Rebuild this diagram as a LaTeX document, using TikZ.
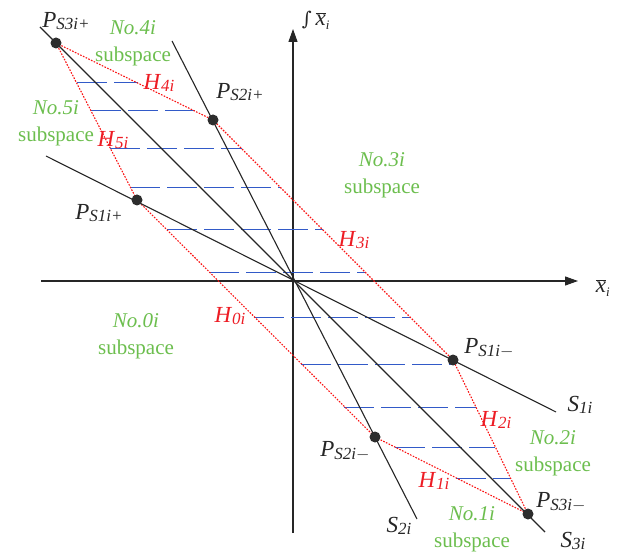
\documentclass[tikz,border=0pt]{standalone}
\usepackage{fontspec}
\setmainfont{Liberation Serif}
\newfontfamily\intfont{DejaVu Serif}
\usetikzlibrary{arrows.meta}
\definecolor{lblgreen}{RGB}{108,190,78}
\definecolor{lblred}{RGB}{237,28,36}
\definecolor{hexred}{RGB}{250,20,20}
\definecolor{dashblue}{RGB}{50,90,200}
\definecolor{dotgray}{RGB}{45,45,45}
\newcommand\mysub[2]{\textit{#1}\raisebox{-2.5pt}{\fontsize{17}{17}\selectfont\textit{#2}}}
\begin{document}
\begin{tikzpicture}[x=1pt,y=-1pt,
  txt/.style={inner sep=0pt, font=\fontsize{21}{23}\selectfont},
  gtxt/.style={txt, text=lblgreen, align=center},
  rtxt/.style={inner sep=0pt, font=\fontsize{23}{25}\selectfont, text=lblred},
  ktxt/.style={inner sep=0pt, font=\fontsize{23}{25}\selectfont, text=black!85},
  sline/.style={line width=1.1pt, draw=black!85},
  axis/.style={line width=1.1pt, draw=black!85, -{Triangle[length=13pt,width=9pt]}},
  hexedge/.style={line width=1.1pt, draw=hexred, dash pattern=on 1.6pt off 1.4pt},
  bdash/.style={line width=1pt, draw=dashblue, dash pattern=on 30pt off 7pt},
  pdot/.style={circle, fill=dotgray, inner sep=0pt, minimum size=11pt}]
\useasboundingbox (0,0) rectangle (626,553);
% origin
\coordinate (O) at (293,281);
% axes
\coordinate (xl) at (41,281);
\coordinate (xr) at (578,281);
\coordinate (yb) at (293,533);
\coordinate (yt) at (293,29);
\draw[axis] (xl) -- (xr);
\draw[axis] (yb) -- (yt);
% switching lines end points
\coordinate (S3a) at (40,27);
\coordinate (S3b) at (545,532);
\coordinate (S2a) at (172,41);
\coordinate (S2b) at (417,519);
\coordinate (S1a) at (46,156);
\coordinate (S1b) at (556,412);
% points
\coordinate (P3p) at (56,43);
\coordinate (P3m) at (528,514);
\coordinate (P2p) at (213,120);
\coordinate (P2m) at (375,437);
\coordinate (P1p) at (137,200);
\coordinate (P1m) at (453,360);
% blue dashed lines
\foreach \y/\xa/\xb in {83/77/138, 111/91/196, 149/110/242, 188/130/281, 230/167/323, 272/209/365,
  317/254/410, 364/301/455, 407/344/476, 447/395/495, 478/456/510}
  \draw[bdash] (\xa,\y) -- (\xb,\y);
% hexagon
\draw[hexedge] (P3p) -- (P2p) -- (P1m) -- (P3m) -- (P2m) -- (P1p) -- cycle;
% lines
\draw[sline] (S3a) -- (S3b);
\draw[sline] (S2a) -- (S2b);
\draw[sline] (S1a) -- (S1b);
% dots
\node[pdot] (d3p) at (P3p) {};
\node[pdot] (d3m) at (P3m) {};
\node[pdot] (d2p) at (P2p) {};
\node[pdot] (d2m) at (P2m) {};
\node[pdot] (d1p) at (P1p) {};
\node[pdot] (d1m) at (P1m) {};
% point labels
\node[ktxt] (lP3p) at (66,21) {\mysub{P}{S3i+}};
\node[ktxt] (lP2p) at (240,92) {\mysub{P}{S2i+}};
\node[ktxt] (lP1p) at (99,213) {\mysub{P}{S1i+}};
\node[ktxt] (lP1m) at (489,348) {\mysub{P}{S1i$-$}};
\node[ktxt] (lP2m) at (345,451) {\mysub{P}{S2i$-$}};
\node[ktxt] (lP3m) at (561,502) {\mysub{P}{S3i$-$}};
\node[ktxt] (lS1) at (580,405) {\mysub{S}{1i}};
\node[ktxt] (lS2) at (399,526) {\mysub{S}{2i}};
\node[ktxt] (lS3) at (573,541) {\mysub{S}{3i}};
% axis labels
\node[ktxt] (ly) at (316,20) {{\intfont\fontsize{19}{19}\selectfont ∫}\,$\overline{\mbox{\textit{x}}}_{\mbox{\fontsize{13}{13}\selectfont\textit{i}}}$};
\node[ktxt] (lx) at (603,288) {$\overline{\mbox{\textit{x}}}_{\mbox{\fontsize{13}{13}\selectfont\textit{i}}}$};
% H labels
\node[rtxt] (H4) at (159,83) {\mysub{H}{4i}};
\node[rtxt] (H5) at (113,140) {\mysub{H}{5i}};
\node[rtxt] (H3) at (354,240) {\mysub{H}{3i}};
\node[rtxt] (H0) at (230,316) {\mysub{H}{0i}};
\node[rtxt] (H2) at (496,420) {\mysub{H}{2i}};
\node[rtxt] (H1) at (434,481) {\mysub{H}{1i}};
% subspace labels
\node[gtxt] (N4) at (133,43) {\textit{No.4i}\\[4pt]subspace};
\node[gtxt] (N5) at (56,123) {\textit{No.5i}\\[4pt]subspace};
\node[gtxt] (N3) at (382,175) {\textit{No.3i}\\[4pt]subspace};
\node[gtxt] (N0) at (136,336) {\textit{No.0i}\\[4pt]subspace};
\node[gtxt] (N2) at (553,453) {\textit{No.2i}\\[4pt]subspace};
\node[gtxt] (N1) at (472,529) {\textit{No.1i}\\[4pt]subspace};
\end{tikzpicture}
\end{document}
